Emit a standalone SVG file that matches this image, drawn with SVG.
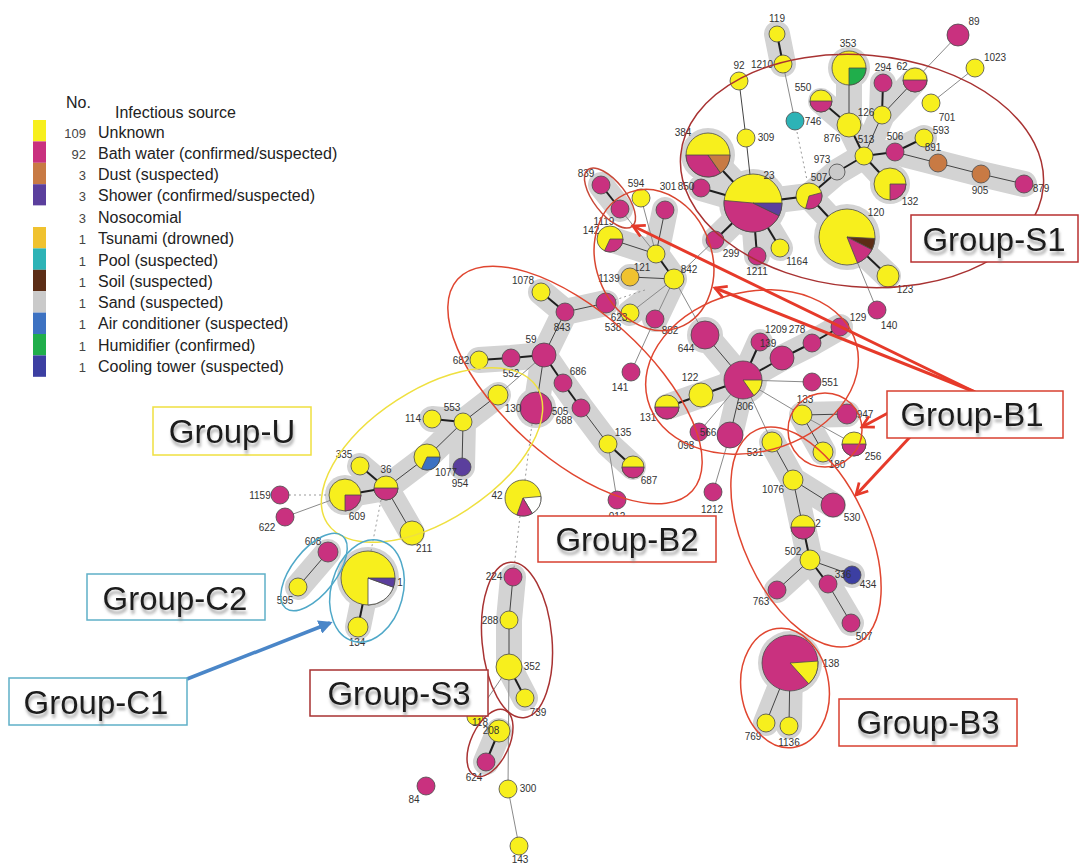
<svg xmlns="http://www.w3.org/2000/svg" width="1080" height="864" viewBox="0 0 1080 864">
<defs>
<style>
.y{fill:#f7ef1d}.m{fill:#c9317f}.o{fill:#c87a44}.pu{fill:#5b3f9d}.w{fill:#fff}.ts{fill:#f0c22f}.pl{fill:#2db3b6}.so{fill:#5c2d16}.sa{fill:#cacaca}.ac{fill:#3d72c2}.hu{fill:#20ae4b}.ct{fill:#3c3fa2}
circle,path.wd{stroke:#4a4a4a;stroke-width:.8}
.l{font-family:"Liberation Sans",Arial,sans-serif;font-size:10px;fill:#333;text-anchor:middle}
.h{fill:none;stroke:#d3d3d3;stroke-width:26;stroke-linecap:round;stroke-linejoin:round}
circle.hc{fill:#d3d3d3;stroke:none}
.k{stroke:#1e1e1e;stroke-width:2}
.t{stroke:#444;stroke-width:1}
.g{stroke:#8a8a8a;stroke-width:1}
.d{stroke:#9a9a9a;stroke-width:1;stroke-dasharray:2 3}
.ge{fill:none;stroke-width:1.5}
.gb{fill:#fff;stroke-width:1.5}
.gt{font-family:"Liberation Sans",Arial,sans-serif;font-size:33px;fill:#1a1a1a;text-anchor:middle;filter:url(#sh)}
.lg{font-family:"Liberation Sans",Arial,sans-serif;font-size:16px;fill:#222}
.ln{font-family:"Liberation Sans",Arial,sans-serif;font-size:13px;fill:#444;text-anchor:end}
.ra{fill:none;stroke:#e63a2a;stroke-width:3;marker-end:url(#ar)}
</style>
<filter id="sh" x="-10%" y="-20%" width="120%" height="160%"><feDropShadow dx="1" dy="4" stdDeviation="1.5" flood-color="#888" flood-opacity="0.7"/></filter>
<marker id="ar" viewBox="0 0 12 12" refX="10" refY="6" markerWidth="5" markerHeight="5" orient="auto"><path d="M1,1 L10,6 L1,11" fill="none" stroke="#e63a2a" stroke-width="2.2"/></marker>
<marker id="ab" viewBox="0 0 10 10" refX="8" refY="5" markerWidth="4" markerHeight="4" orient="auto"><path d="M0,0 L10,5 L0,10 Z" fill="#4a86c8"/></marker>
</defs>
<rect width="1080" height="864" fill="#fff"/>

<g id="legend">
<rect x="33" y="120" width="13" height="21.4" class="y"/>
<rect x="33" y="141.4" width="13" height="21.4" class="m"/>
<rect x="33" y="162.8" width="13" height="21.4" class="o"/>
<rect x="33" y="184.2" width="13" height="21.4" class="pu"/>
<rect x="33" y="205.6" width="13" height="21.4" class="w"/>
<rect x="33" y="227" width="13" height="21.4" class="ts"/>
<rect x="33" y="248.4" width="13" height="21.4" class="pl"/>
<rect x="33" y="269.8" width="13" height="21.4" class="so"/>
<rect x="33" y="291.2" width="13" height="21.4" class="sa"/>
<rect x="33" y="312.6" width="13" height="21.4" class="ac"/>
<rect x="33" y="334" width="13" height="21.4" class="hu"/>
<rect x="33" y="355.4" width="13" height="21.4" class="ct"/>
<text x="66" y="108" class="lg">No.</text>
<text x="115" y="118" class="lg">Infectious source</text>
<text x="86" y="138" class="ln">109</text><text x="98" y="138" class="lg">Unknown</text>
<text x="86" y="159" class="ln">92</text><text x="98" y="159" class="lg">Bath water (confirmed/suspected)</text>
<text x="86" y="180" class="ln">3</text><text x="98" y="180" class="lg">Dust (suspected)</text>
<text x="86" y="201" class="ln">3</text><text x="98" y="201" class="lg">Shower (confirmed/suspected)</text>
<text x="86" y="223" class="ln">3</text><text x="98" y="223" class="lg">Nosocomial</text>
<text x="86" y="244" class="ln">1</text><text x="98" y="244" class="lg">Tsunami (drowned)</text>
<text x="86" y="266" class="ln">1</text><text x="98" y="266" class="lg">Pool (suspected)</text>
<text x="86" y="287" class="ln">1</text><text x="98" y="287" class="lg">Soil (suspected)</text>
<text x="86" y="308" class="ln">1</text><text x="98" y="308" class="lg">Sand (suspected)</text>
<text x="86" y="329" class="ln">1</text><text x="98" y="329" class="lg">Air conditioner (suspected)</text>
<text x="86" y="351" class="ln">1</text><text x="98" y="351" class="lg">Humidifier (confirmed)</text>
<text x="86" y="372" class="ln">1</text><text x="98" y="372" class="lg">Cooling tower (suspected)</text>
</g>

<g id="halos">
<path class="h" d="M777,34 L783,64"/>
<path class="h" d="M708,155 L753,203 M701,188 L753,203 M715,240 L753,203 M757,256 L753,203 M780,248 L753,203 M753,203 L809,196 L837,172 L864,156 L849,125 L849,68 M849,125 L821,101 M864,156 L882,115 L883,83 M882,115 L915,80 M864,156 L895,152 L924,138 M895,152 L938,163 L981,174 L1024,184 M864,156 L890,184 M809,196 L847,237 L888,276"/>
<circle class="hc" cx="753" cy="203" r="34"/><circle class="hc" cx="708" cy="155" r="27"/><circle class="hc" cx="847" cy="237" r="33"/><circle class="hc" cx="849" cy="68" r="21"/><circle class="hc" cx="890" cy="184" r="20"/>
<path class="h" d="M601,185 L620,209 M610,239 L656,254 L674,279 L630,277 M665,210 L656,254 M674,279 L655,319 M674,279 L630,313"/>
<path class="h" d="M541,292 L565,312 L606,303 M565,312 L544,355 L511,358 L479,360 M544,355 L536,408 M544,355 L563,383 L581,408 L608,444 L633,467"/>
<circle class="hc" cx="536" cy="408" r="20"/>
<path class="h" d="M705,335 L743,380 L701,395 L667,407 M743,380 L760,342 M743,380 L782,358 L812,343 L840,327 M743,380 L730,435"/>
<circle class="hc" cx="743" cy="380" r="24"/><circle class="hc" cx="705" cy="335" r="18"/>
<path class="h" d="M802,415 L847,414 M802,415 L823,452"/>
<path class="h" d="M772,442 L793,480 L833,505 M793,480 L803,527 L810,560 L777,590 M810,560 L828,584 L851,623 M810,560 L852,575"/>
<path class="h" d="M498,395 L463,422 L427,457 L386,488 L360,466 M463,422 L432,419 M386,488 L345,495 M386,488 L412,533 M463,422 L462,467"/>
<circle class="hc" cx="345" cy="495" r="20"/>
<path class="h" d="M328,552 L298,587 M368,578 L358,627"/>
<circle class="hc" cx="368" cy="578" r="31"/>
<path class="h" d="M513,577 L509,620 L509,667 L525,698 M499,731 L486,762"/>
<path class="h" d="M790,663 L766,723 M790,663 L789,726"/>
<circle class="hc" cx="790" cy="663" r="32"/>
</g>

<g id="connectors">
<line class="k" x1="777" y1="34" x2="783" y2="64"/>
<line class="k" x1="708" y1="155" x2="753" y2="203"/>
<line class="k" x1="701" y1="188" x2="753" y2="203"/>
<line class="k" x1="715" y1="240" x2="753" y2="203"/>
<line class="k" x1="757" y1="256" x2="753" y2="203"/>
<line class="k" x1="780" y1="248" x2="753" y2="203"/>
<line class="k" x1="753" y1="203" x2="809" y2="196"/>
<line class="k" x1="809" y1="196" x2="837" y2="172"/>
<line class="k" x1="837" y1="172" x2="864" y2="156"/>
<line class="k" x1="864" y1="156" x2="849" y2="125"/>
<line class="k" x1="849" y1="125" x2="821" y2="101"/>
<line class="k" x1="882" y1="115" x2="883" y2="83"/>
<line class="k" x1="864" y1="156" x2="895" y2="152"/>
<line class="k" x1="895" y1="152" x2="924" y2="138"/>
<line class="k" x1="864" y1="156" x2="890" y2="184"/>
<line class="k" x1="809" y1="196" x2="847" y2="237"/>
<line class="k" x1="847" y1="237" x2="888" y2="276"/>
<line class="t" x1="739" y1="81" x2="746" y2="138"/>
<line class="t" x1="746" y1="138" x2="753" y2="203"/>
<line class="t" x1="849" y1="125" x2="849" y2="68"/>
<line class="t" x1="864" y1="156" x2="882" y2="115"/>
<line class="t" x1="882" y1="115" x2="915" y2="80"/>
<line class="t" x1="895" y1="152" x2="938" y2="163"/>
<line class="t" x1="938" y1="163" x2="981" y2="174"/>
<line class="t" x1="981" y1="174" x2="1024" y2="184"/>
<line class="g" x1="783" y1="64" x2="795" y2="121"/>
<line class="g" x1="915" y1="80" x2="958" y2="35"/>
<line class="g" x1="975" y1="68" x2="931" y2="103"/>
<line class="g" x1="847" y1="237" x2="877" y2="310"/>
<line class="g" x1="715" y1="240" x2="674" y2="279"/>
<line class="d" x1="797" y1="132" x2="807" y2="180"/>
<line class="k" x1="601" y1="185" x2="620" y2="209"/>
<line class="k" x1="656" y1="254" x2="674" y2="279"/>
<line class="t" x1="665" y1="210" x2="656" y2="254"/>
<line class="t" x1="610" y1="239" x2="656" y2="254"/>
<line class="t" x1="630" y1="277" x2="674" y2="279"/>
<line class="g" x1="641" y1="198" x2="656" y2="254"/>
<line class="g" x1="620" y1="209" x2="656" y2="254"/>
<line class="g" x1="674" y1="279" x2="630" y2="313"/>
<line class="g" x1="674" y1="279" x2="655" y2="319"/>
<line class="g" x1="674" y1="279" x2="705" y2="335"/>
<line class="g" x1="655" y1="319" x2="631" y2="372"/>
<line class="d" x1="645" y1="290" x2="615" y2="300"/>
<line class="k" x1="541" y1="292" x2="565" y2="312"/>
<line class="k" x1="544" y1="355" x2="511" y2="358"/>
<line class="k" x1="511" y1="358" x2="479" y2="360"/>
<line class="k" x1="544" y1="355" x2="563" y2="383"/>
<line class="k" x1="563" y1="383" x2="581" y2="408"/>
<line class="k" x1="608" y1="444" x2="633" y2="467"/>
<line class="t" x1="565" y1="312" x2="606" y2="303"/>
<line class="t" x1="565" y1="312" x2="544" y2="355"/>
<line class="t" x1="544" y1="355" x2="536" y2="408"/>
<line class="t" x1="581" y1="408" x2="608" y2="444"/>
<line class="g" x1="608" y1="444" x2="617" y2="500"/>
<line class="g" x1="544" y1="355" x2="498" y2="395"/>
<line class="d" x1="532" y1="424" x2="525" y2="480"/>
<line class="d" x1="520" y1="516" x2="514" y2="568"/>
<line class="k" x1="743" y1="380" x2="760" y2="342"/>
<line class="k" x1="743" y1="380" x2="782" y2="358"/>
<line class="k" x1="782" y1="358" x2="812" y2="343"/>
<line class="k" x1="812" y1="343" x2="840" y2="327"/>
<line class="k" x1="743" y1="380" x2="701" y2="395"/>
<line class="k" x1="701" y1="395" x2="667" y2="407"/>
<line class="t" x1="705" y1="335" x2="743" y2="380"/>
<line class="t" x1="743" y1="380" x2="730" y2="435"/>
<line class="t" x1="802" y1="415" x2="847" y2="414"/>
<line class="t" x1="802" y1="415" x2="823" y2="452"/>
<line class="g" x1="743" y1="380" x2="812" y2="382"/>
<line class="g" x1="743" y1="380" x2="699" y2="432"/>
<line class="g" x1="743" y1="380" x2="772" y2="442"/>
<line class="g" x1="743" y1="380" x2="802" y2="415"/>
<line class="g" x1="802" y1="415" x2="854" y2="444"/>
<line class="g" x1="730" y1="435" x2="713" y2="492"/>
<line class="t" x1="772" y1="442" x2="793" y2="480"/>
<line class="t" x1="793" y1="480" x2="833" y2="505"/>
<line class="t" x1="793" y1="480" x2="803" y2="527"/>
<line class="t" x1="810" y1="560" x2="852" y2="575"/>
<line class="t" x1="828" y1="584" x2="851" y2="623"/>
<line class="t" x1="810" y1="560" x2="777" y2="590"/>
<line class="k" x1="803" y1="527" x2="810" y2="560"/>
<line class="k" x1="810" y1="560" x2="828" y2="584"/>
<line class="t" x1="790" y1="663" x2="766" y2="723"/>
<line class="t" x1="790" y1="663" x2="789" y2="726"/>
<line class="t" x1="498" y1="395" x2="463" y2="422"/>
<line class="t" x1="463" y1="422" x2="462" y2="467"/>
<line class="t" x1="463" y1="422" x2="427" y2="457"/>
<line class="t" x1="427" y1="457" x2="386" y2="488"/>
<line class="t" x1="386" y1="488" x2="412" y2="533"/>
<line class="g" x1="345" y1="495" x2="285" y2="517"/>
<line class="k" x1="463" y1="422" x2="432" y2="419"/>
<line class="k" x1="386" y1="488" x2="360" y2="466"/>
<line class="k" x1="386" y1="488" x2="345" y2="495"/>
<line class="d" x1="289" y1="495" x2="329" y2="495"/>
<line class="d" x1="381" y1="500" x2="371" y2="551"/>
<line class="t" x1="328" y1="552" x2="298" y2="587"/>
<line class="k" x1="368" y1="578" x2="358" y2="627"/>
<line class="t" x1="513" y1="577" x2="509" y2="620"/>
<line class="t" x1="509" y1="620" x2="509" y2="667"/>
<line class="k" x1="509" y1="667" x2="525" y2="698"/>
<line class="k" x1="499" y1="731" x2="486" y2="762"/>
<line class="g" x1="509" y1="667" x2="475" y2="717"/>
<line class="g" x1="509" y1="667" x2="508" y2="789"/>
<line class="g" x1="508" y1="789" x2="519" y2="846"/>
</g>

<g id="n119"><circle class="y" cx="777" cy="34" r="8"/><text class="l" x="777" y="22">119</text></g>
<g id="n1210"><circle class="y" cx="783" cy="64" r="9"/><text class="l" x="762" y="68">1210</text></g>
<g id="n92"><circle class="y" cx="739" cy="81" r="9"/><text class="l" x="739" y="69">92</text></g>
<g id="n746"><circle class="pl" cx="795" cy="121" r="9"/><text class="l" x="813" y="125">746</text></g>
<g id="n309"><circle class="y" cx="746" cy="138" r="9"/><text class="l" x="766" y="141">309</text></g>
<g id="n384"><circle class="y" cx="708" cy="155" r="22"/><path class="m wd" d="M708,155 L720.62,173.02 A22,22 0 0 1 686,155 Z"/><path class="o wd" d="M708,155 L730,155 A22,22 0 0 1 720.62,173.02 Z"/><text class="l" x="683" y="136">384</text></g>
<g id="n23"><circle class="y" cx="753" cy="203" r="29"/><path class="m wd" d="M753,203 L779.07,215.71 A29,29 0 0 1 724.11,200.47 Z"/><path class="pu wd" d="M753,203 L782,203 A29,29 0 0 1 779.07,215.71 Z"/><text class="l" x="769" y="179">23</text></g>
<g id="n850"><circle class="m" cx="701" cy="188" r="9"/><text class="l" x="686" y="190">850</text></g>
<g id="n301"><circle class="m" cx="665" cy="210" r="9"/><text class="l" x="668" y="190">301</text></g>
<g id="n299"><circle class="m" cx="715" cy="240" r="9"/><text class="l" x="731" y="257">299</text></g>
<g id="n1211"><circle class="m" cx="757" cy="256" r="9"/><text class="l" x="757" y="275">1211</text></g>
<g id="n1164"><circle class="y" cx="780" cy="248" r="9"/><text class="l" x="797" y="265">1164</text></g>
<g id="n507"><circle class="y" cx="809" cy="196" r="13"/><path class="m wd" d="M809,196 L821.56,192.64 A13,13 0 0 1 805.64,208.56 Z"/><text class="l" x="819" y="181">507</text></g>
<g id="n973"><circle class="sa" cx="837" cy="172" r="8"/><text class="l" x="822" y="163">973</text></g>
<g id="n120"><circle class="y" cx="847" cy="237" r="28"/><path class="so wd" d="M847,237 L874.96,238.47 A28,28 0 0 1 871.95,249.71 Z"/><path class="m wd" d="M847,237 L871.95,249.71 A28,28 0 0 1 857.49,262.96 Z"/><text class="l" x="876" y="216">120</text></g>
<g id="n123"><circle class="y" cx="888" cy="276" r="11"/><text class="l" x="905" y="293">123</text></g>
<g id="n132"><circle class="y" cx="890" cy="184" r="16"/><path class="m wd" d="M890,184 L906,184 A16,16 0 0 1 890,200 Z"/><text class="l" x="910" y="205">132</text></g>
<g id="n513"><circle class="y" cx="864" cy="156" r="9"/><text class="l" x="866" y="143">513</text></g>
<g id="n876"><circle class="y" cx="849" cy="125" r="12"/><text class="l" x="832" y="142">876</text></g>
<g id="n126"><circle class="y" cx="882" cy="115" r="9"/><text class="l" x="866" y="116">126</text></g>
<g id="n353"><circle class="y" cx="849" cy="68" r="17"/><path class="hu wd" d="M849,68 L866,68 A17,17 0 0 1 849,85 Z"/><text class="l" x="848" y="47">353</text></g>
<g id="n550"><circle class="y" cx="821" cy="101" r="11"/><path class="m wd" d="M832,101 A11,11 0 0 1 810,101 Z"/><text class="l" x="803" y="91">550</text></g>
<g id="n294"><circle class="m" cx="883" cy="83" r="9"/><text class="l" x="883" y="71">294</text></g>
<g id="n62"><circle class="y" cx="915" cy="80" r="12"/><path class="m wd" d="M927,80 A12,12 0 0 1 903,80 Z"/><text class="l" x="902" y="70">62</text></g>
<g id="n89"><circle class="m" cx="958" cy="35" r="11"/><text class="l" x="974" y="25">89</text></g>
<g id="n1023"><circle class="y" cx="975" cy="68" r="9"/><text class="l" x="995" y="61">1023</text></g>
<g id="n701"><circle class="y" cx="931" cy="103" r="9"/><text class="l" x="947" y="121">701</text></g>
<g id="n506"><circle class="m" cx="895" cy="152" r="9"/><text class="l" x="895" y="140">506</text></g>
<g id="n593"><circle class="y" cx="924" cy="138" r="9"/><text class="l" x="941" y="134">593</text></g>
<g id="n891"><circle class="o" cx="938" cy="163" r="9"/><text class="l" x="933" y="151">891</text></g>
<g id="n905"><circle class="o" cx="981" cy="174" r="9"/><text class="l" x="980" y="194">905</text></g>
<g id="n879"><circle class="m" cx="1024" cy="184" r="9"/><text class="l" x="1041" y="192">879</text></g>
<g id="n140"><circle class="m" cx="877" cy="310" r="9"/><text class="l" x="889" y="329">140</text></g>

<g id="n839"><circle class="m" cx="601" cy="185" r="9"/><text class="l" x="586" y="177">839</text></g>
<g id="n1119"><circle class="m" cx="620" cy="209" r="9"/><text class="l" x="604" y="225">1119</text></g>
<g id="n594"><circle class="y" cx="641" cy="198" r="9"/><text class="l" x="636" y="187">594</text></g>
<g id="n142"><circle class="y" cx="610" cy="239" r="13"/><path class="m wd" d="M610,239 L623,239 A13,13 0 0 1 604.51,250.78 Z"/><text class="l" x="591" y="234">142</text></g>
<g id="n121"><circle class="y" cx="656" cy="254" r="9"/><text class="l" x="642" y="271">121</text></g>
<g id="n1139"><circle class="ts" cx="630" cy="277" r="9"/><text class="l" x="609" y="282">1139</text></g>
<g id="n842"><circle class="y" cx="674" cy="279" r="10"/><text class="l" x="689" y="273">842</text></g>
<g id="n538"><circle class="m" cx="606" cy="303" r="10"/><text class="l" x="613" y="331">538</text></g>
<g id="n623"><circle class="y" cx="630" cy="313" r="9"/><text class="l" x="619" y="321">623</text></g>
<g id="n882"><circle class="m" cx="655" cy="319" r="9"/><text class="l" x="670" y="334">882</text></g>
<g id="n141"><circle class="m" cx="631" cy="372" r="9"/><text class="l" x="620" y="391">141</text></g>

<g id="n1078"><circle class="y" cx="541" cy="292" r="9"/><text class="l" x="523" y="284">1078</text></g>
<g id="n843"><circle class="m" cx="565" cy="312" r="9"/><text class="l" x="562" y="331">843</text></g>
<g id="n59"><circle class="m" cx="544" cy="355" r="12"/><text class="l" x="531" y="343">59</text></g>
<g id="n682"><circle class="y" cx="479" cy="360" r="9"/><text class="l" x="461" y="364">682</text></g>
<g id="n552"><circle class="m" cx="511" cy="358" r="9"/><text class="l" x="511" y="377">552</text></g>
<g id="n686"><circle class="m" cx="563" cy="383" r="9"/><text class="l" x="578" y="375">686</text></g>
<g id="n130"><circle class="m" cx="536" cy="408" r="16"/><text class="l" x="513" y="412">130</text></g>
<g id="n505"><circle class="m" cx="581" cy="408" r="9"/><text class="l" x="560" y="415">505</text><text class="l" x="564" y="424">688</text></g>
<g id="n135"><circle class="y" cx="608" cy="444" r="9"/><text class="l" x="623" y="436">135</text></g>
<g id="n687"><circle class="y" cx="633" cy="467" r="11"/><path class="m wd" d="M644,467 A11,11 0 0 1 622,467 Z"/><text class="l" x="649" y="484">687</text></g>
<g id="n012"><circle class="m" cx="617" cy="500" r="9"/><text class="l" x="617" y="520">012</text></g>
<g id="n42"><circle class="y" cx="523" cy="498" r="18"/><path class="w wd" d="M523,498 L540.93,496.43 A18,18 0 0 1 532.27,513.43 Z"/><path class="m wd" d="M523,498 L532.27,513.43 A18,18 0 0 1 516.84,514.91 Z"/><text class="l" x="497" y="499">42</text></g>

<g id="n644"><circle class="m" cx="705" cy="335" r="14"/><text class="l" x="686" y="352">644</text></g>
<g id="n1209"><circle class="m" cx="760" cy="342" r="9"/><text class="l" x="776" y="333">1209</text><text class="l" x="768" y="347">139</text></g>
<g id="n-b1a"><circle class="m" cx="782" cy="358" r="12"/></g>
<g id="n278"><circle class="m" cx="812" cy="343" r="9"/><text class="l" x="797" y="333">278</text></g>
<g id="n129"><circle class="m" cx="840" cy="327" r="9"/><text class="l" x="858" y="321">129</text></g>
<g id="n306"><circle class="m" cx="743" cy="380" r="19"/><path class="y wd" d="M743,380 L762,380 A19,19 0 0 1 753.9,395.56 Z"/><text class="l" x="745" y="410">306</text></g>
<g id="n551"><circle class="m" cx="812" cy="382" r="9"/><text class="l" x="830" y="386">551</text></g>
<g id="n122"><circle class="y" cx="701" cy="395" r="12"/><text class="l" x="690" y="381">122</text></g>
<g id="n131"><circle class="y" cx="667" cy="407" r="12"/><path class="m wd" d="M679,407 A12,12 0 0 1 655,407 Z"/><text class="l" x="648" y="421">131</text></g>
<g id="n566"><circle class="m" cx="699" cy="432" r="9"/><text class="l" x="708" y="436">566</text><text class="l" x="686" y="449">098</text></g>
<g id="n-b1b"><circle class="m" cx="730" cy="435" r="13"/></g>
<g id="n531"><circle class="y" cx="772" cy="442" r="10"/><text class="l" x="755" y="456">531</text></g>
<g id="n133"><circle class="y" cx="802" cy="415" r="10"/><text class="l" x="805" y="403">133</text></g>
<g id="n947"><circle class="m" cx="847" cy="414" r="10"/><text class="l" x="865" y="418">947</text></g>
<g id="n256"><circle class="y" cx="854" cy="444" r="12"/><path class="m wd" d="M866,444 A12,12 0 0 1 842,444 Z"/><text class="l" x="873" y="460">256</text></g>
<g id="n180"><circle class="y" cx="823" cy="452" r="10"/><text class="l" x="837" y="468">180</text></g>
<g id="n1212"><circle class="m" cx="713" cy="492" r="9"/><text class="l" x="712" y="513">1212</text></g>

<g id="n1076"><circle class="y" cx="793" cy="480" r="10"/><text class="l" x="773" y="493">1076</text></g>
<g id="n530"><circle class="m" cx="833" cy="505" r="12"/><text class="l" x="852" y="521">530</text></g>
<g id="n2"><circle class="y" cx="803" cy="527" r="12"/><path class="m wd" d="M815,527 A12,12 0 0 1 791,527 Z"/><text class="l" x="818" y="527">2</text></g>
<g id="n502"><circle class="y" cx="810" cy="560" r="10"/><text class="l" x="793" y="555">502</text></g>
<g id="n336"><circle class="ct" cx="852" cy="575" r="9"/><text class="l" x="843" y="578">336</text><text class="l" x="868" y="588">434</text></g>
<g id="n-b3a"><circle class="m" cx="828" cy="584" r="9"/></g>
<g id="n763"><circle class="m" cx="777" cy="590" r="9"/><text class="l" x="761" y="605">763</text></g>
<g id="n507b"><circle class="m" cx="851" cy="623" r="9"/><text class="l" x="864" y="640">507</text></g>
<g id="n138"><circle class="m" cx="790" cy="663" r="28"/><path class="y wd" d="M790,663 L817.93,661.05 A28,28 0 0 1 808.74,683.81 Z"/><text class="l" x="831" y="667">138</text></g>
<g id="n769"><circle class="y" cx="766" cy="723" r="9"/><text class="l" x="753" y="740">769</text></g>
<g id="n1136"><circle class="y" cx="789" cy="726" r="9"/><text class="l" x="789" y="746">1136</text></g>

<g id="n-u1"><circle class="y" cx="498" cy="395" r="10"/></g>
<g id="n553"><circle class="y" cx="463" cy="422" r="9"/><text class="l" x="452" y="411">553</text></g>
<g id="n114"><circle class="y" cx="432" cy="419" r="9"/><text class="l" x="413" y="422">114</text></g>
<g id="n-u2"><circle class="y" cx="427" cy="457" r="13"/><path class="ac wd" d="M427,457 L440,457 A13,13 0 0 1 421.51,468.78 Z"/></g>
<g id="n954"><circle class="pu" cx="462" cy="467" r="9"/><text class="l" x="446" y="476">1077</text><text class="l" x="460" y="487">954</text></g>
<g id="n335"><circle class="y" cx="360" cy="466" r="9"/><text class="l" x="344" y="458">335</text></g>
<g id="n36"><circle class="y" cx="386" cy="488" r="12"/><path class="m wd" d="M398,488 A12,12 0 0 1 374,488 Z"/><text class="l" x="386" y="473">36</text></g>
<g id="n609"><circle class="y" cx="345" cy="495" r="16"/><path class="m wd" d="M345,495 L361,495 A16,16 0 0 1 345,511 Z"/><text class="l" x="357" y="520">609</text></g>
<g id="n211"><circle class="y" cx="412" cy="533" r="12"/><text class="l" x="424" y="552">211</text></g>
<g id="n1159"><circle class="m" cx="280" cy="495" r="9"/><text class="l" x="260" y="499">1159</text></g>
<g id="n622"><circle class="m" cx="285" cy="517" r="9"/><text class="l" x="267" y="531">622</text></g>

<g id="n608"><circle class="m" cx="328" cy="552" r="10"/><text class="l" x="313" y="545">608</text></g>
<g id="n595"><circle class="y" cx="298" cy="587" r="9"/><text class="l" x="285" y="604">595</text></g>
<g id="n1"><circle class="y" cx="368" cy="578" r="27"/><path class="w wd" d="M368,578 L393.37,587.23 A27,27 0 0 1 368,605 Z"/><path class="pu wd" d="M368,578 L395,578 A27,27 0 0 1 393.37,587.23 Z"/><text class="l" x="400" y="586">1</text></g>
<g id="n134"><circle class="y" cx="358" cy="627" r="10"/><text class="l" x="357" y="646">134</text></g>

<g id="n224"><circle class="m" cx="513" cy="577" r="9"/><text class="l" x="494" y="580">224</text></g>
<g id="n288"><circle class="y" cx="509" cy="620" r="9"/><text class="l" x="490" y="624">288</text></g>
<g id="n352"><circle class="y" cx="509" cy="667" r="13"/><text class="l" x="532" y="670">352</text></g>
<g id="n739"><circle class="y" cx="525" cy="698" r="9"/><text class="l" x="538" y="716">739</text></g>
<g id="n118"><circle class="y" cx="475" cy="717" r="8"/><text class="l" x="480" y="726">118</text></g>
<g id="n208"><circle class="y" cx="499" cy="731" r="11"/><text class="l" x="491" y="734">208</text></g>
<g id="n624"><circle class="m" cx="486" cy="762" r="9"/><text class="l" x="474" y="781">624</text></g>
<g id="n300"><circle class="y" cx="508" cy="789" r="9"/><text class="l" x="528" y="792">300</text></g>
<g id="n143"><circle class="y" cx="519" cy="846" r="9"/><text class="l" x="520" y="863">143</text></g>
<g id="n84"><circle class="m" cx="426" cy="786" r="9"/><text class="l" x="414" y="803">84</text></g>

<g id="group-outlines">
<ellipse class="ge" stroke="#a83232" cx="862" cy="171" rx="182" ry="116" transform="rotate(5 862 171)"/>
<ellipse class="ge" stroke="#d8452f" cx="654" cy="260" rx="58" ry="72" transform="rotate(-20 654 260)"/>
<ellipse class="ge" stroke="#c84838" cx="610" cy="198" rx="36" ry="16" transform="rotate(52 610 198)"/>
<ellipse class="ge" stroke="#e04630" cx="575" cy="385" rx="158" ry="73" transform="rotate(42 575 385)"/>
<ellipse class="ge" stroke="#e04630" cx="752" cy="372" rx="108" ry="80" transform="rotate(-15 752 372)"/>
<ellipse class="ge" stroke="#e04630" cx="825" cy="430" rx="37" ry="37"/>
<ellipse class="ge" stroke="#e04630" cx="806" cy="537" rx="118" ry="62" transform="rotate(65 806 537)"/>
<ellipse class="ge" stroke="#e04630" cx="785" cy="688" rx="44" ry="60" transform="rotate(-8 785 688)"/>
<ellipse class="ge" stroke="#efe040" cx="432" cy="455" rx="125" ry="65" transform="rotate(-33 432 455)"/>
<ellipse class="ge" stroke="#4fa8c8" cx="314" cy="572" rx="46" ry="22" transform="rotate(-52 314 572)"/>
<ellipse class="ge" stroke="#4fa8c8" cx="367" cy="591" rx="36" ry="52" transform="rotate(15 367 591)"/>
<ellipse class="ge" stroke="#a83232" cx="517" cy="640" rx="35" ry="78" transform="rotate(-5 517 640)"/>
<ellipse class="ge" stroke="#a83232" cx="490" cy="743" rx="19" ry="36" transform="rotate(25 490 743)"/>
</g>

<g id="arrows">
<line class="ra" x1="975" y1="392" x2="633" y2="226"/>
<line class="ra" x1="975" y1="392" x2="715" y2="288"/>
<line class="ra" x1="888" y1="413" x2="862" y2="427"/>
<line class="ra" x1="910" y1="437" x2="856" y2="495"/>
<line x1="187" y1="679" x2="330" y2="623" stroke="#4a86c8" stroke-width="3.5" marker-end="url(#ab)"/>
</g>

<g id="label-S1"><rect class="gb" stroke="#b83030" x="911" y="215" width="167" height="47"/><text class="gt" x="994" y="251">Group-S1</text></g>
<g id="label-B1"><rect class="gb" stroke="#d84030" x="887" y="391" width="176" height="47"/><text class="gt" x="972" y="426">Group-B1</text></g>
<g id="label-B2"><rect class="gb" stroke="#d84030" x="538" y="516" width="178" height="46"/><text class="gt" x="627" y="551">Group-B2</text></g>
<g id="label-B3"><rect class="gb" stroke="#d84030" x="839" y="699" width="178" height="47"/><text class="gt" x="928" y="734">Group-B3</text></g>
<g id="label-S3"><rect class="gb" stroke="#a83232" x="310" y="670" width="178" height="46"/><text class="gt" x="399" y="705">Group-S3</text></g>
<g id="label-U"><rect class="gb" stroke="#efe040" x="153" y="407" width="158" height="48"/><text class="gt" x="232" y="443">Group-U</text></g>
<g id="label-C2"><rect class="gb" stroke="#5fb0c8" x="87" y="574" width="178" height="46"/><text class="gt" x="175" y="610">Group-C2</text></g>
<g id="label-C1"><rect class="gb" stroke="#5fb0c8" x="9" y="678" width="178" height="47"/><text class="gt" x="96" y="714">Group-C1</text></g>
</svg>
